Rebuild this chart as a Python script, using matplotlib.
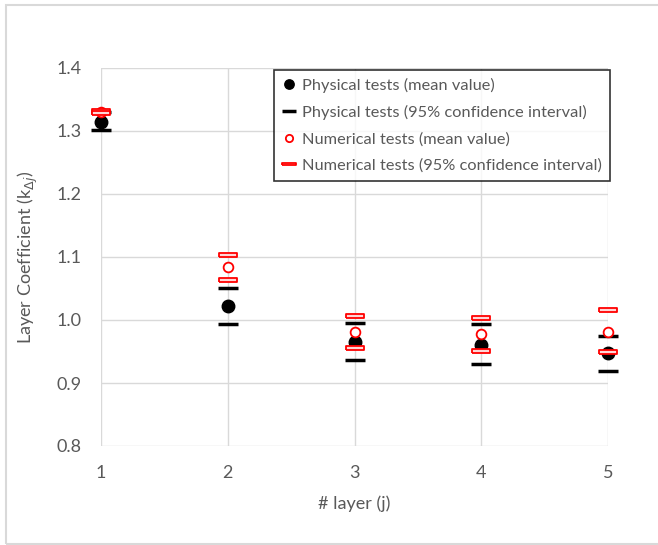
import matplotlib.pyplot as plt
from matplotlib.patches import Rectangle

plt.rcParams['font.family'] = ['Lato', 'DejaVu Sans']

layers = [1, 2, 3, 4, 5]
phys_mean = [1.315, 1.022, 0.965, 0.960, 0.947]
phys_upper = [1.330, 1.051, 0.995, 0.994, 0.974]
phys_lower = [1.302, 0.994, 0.937, 0.930, 0.919]
num_mean = [1.330, 1.084, 0.981, 0.977, 0.981]
num_upper = [1.331, 1.103, 1.006, 1.003, 1.016]
num_lower = [1.329, 1.063, 0.956, 0.951, 0.949]

gray = '#595959'
rect = [(-1, -0.22), (1, -0.22), (1, 0.22), (-1, 0.22), (-1, -0.22)]

fig = plt.figure(figsize=(6.58, 5.45), dpi=100)
ax = fig.add_axes([101 / 658, 1 - 446 / 545, 507 / 658, 378 / 545])

# contour gris du graphique
fig.patches.append(Rectangle((6 / 658, 1 / 545), 1.0, 1 - 6 / 545, transform=fig.transFigure,
                             fill=False, edgecolor='#d9d9d9', linewidth=1.5))

ax.plot(layers, phys_upper, ls='none', marker='_', markersize=14, mew=2.5, color='black', clip_on=False, zorder=3)
ax.plot(layers, phys_lower, ls='none', marker='_', markersize=14, mew=2.5, color='black', clip_on=False, zorder=3,
        label='Physical tests (95% confidence interval)')
ax.plot(layers, phys_mean, ls='none', marker='o', markersize=9, color='black', clip_on=False, zorder=4,
        label='Physical tests (mean value)')
ax.plot(layers, num_mean, ls='none', marker='o', markersize=7, mfc='white', mec='red', mew=1.3,
        clip_on=False, zorder=4.5, label='Numerical tests (mean value)')
ax.plot(layers, num_upper, ls='none', marker=rect, markersize=13, mfc='#ffd6d6', mec='red', mew=1.3,
        clip_on=False, zorder=5, label='Numerical tests (95% confidence interval)')
ax.plot(layers, num_lower, ls='none', marker=rect, markersize=13, mfc='#ffd6d6', mec='red', mew=1.3,
        clip_on=False, zorder=5)

ax.set_xlim(1, 5)
ax.set_ylim(0.8, 1.4)
ax.set_xticks(layers)
ax.set_yticks([0.8, 0.9, 1.0, 1.1, 1.2, 1.3, 1.4])
ax.set_yticklabels(['0.8', '0.9', '1.0', '1.1', '1.2', '1.3', '1.4'])
ax.grid(True, color='#d9d9d9', linewidth=1.0)
ax.set_axisbelow(True)
for s in ax.spines.values():
    s.set_visible(False)
ax.tick_params(length=0, labelsize=13, labelcolor=gray, pad=14)

ax.set_xlabel('# layer (j)', fontsize=13, color=gray, labelpad=10)
ax.set_ylabel('Layer Coefficient (k$_{\\Delta j}$)', fontsize=13, color=gray, labelpad=12)

h, l = ax.get_legend_handles_labels()
order = [l.index('Physical tests (mean value)'), l.index('Physical tests (95% confidence interval)'),
         l.index('Numerical tests (mean value)'), l.index('Numerical tests (95% confidence interval)')]
leg = ax.legend([h[i] for i in order], [l[i] for i in order], loc='upper right',
                bbox_to_anchor=(1.004, 0.995), fontsize=11.8, frameon=True, fancybox=False,
                edgecolor='black', handlelength=0.8, handletextpad=0.4, borderpad=0.5,
                labelspacing=0.72, markerscale=0.75, borderaxespad=0.0)
leg.get_frame().set_linewidth(1.2)
for t in leg.get_texts():
    t.set_color(gray)

fig.savefig('out.png', dpi=100)
